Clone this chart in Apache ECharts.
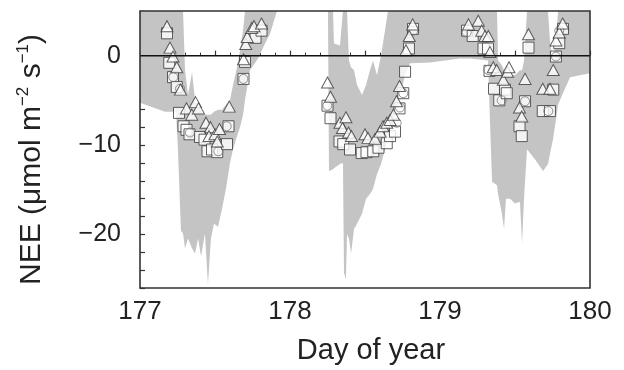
<!DOCTYPE html>
<html>
<head>
<meta charset="utf-8">
<script src="https://cdn.jsdelivr.net/npm/echarts@6/dist/echarts.min.js"></script>
<style>
html,body{margin:0;padding:0;background:#fff;}
#chart{width:624px;height:370px;}
</style>
</head>
<body>
<div id="chart"></div>
<script>
// ---- data (day of year, NEE in µmol m-2 s-1) ----
const xTickLabels = [177, 178, 179, 180];
const yTickLabels = [0, -10, -20];

// grey envelope: lower and upper bounds at each day
const bandDays = [177.000,177.167,177.240,177.253,177.273,177.287,177.300,177.320,177.347,177.367,177.387,177.407,177.433,177.453,177.473,177.493,177.520,177.547,177.573,177.600,177.620,177.647,177.667,177.687,177.700,177.733,177.787,177.827,177.867,177.913,178.253,
  178.260,178.287,178.293,178.333,178.353,178.360,178.373,178.380,178.393,178.407,178.427,178.447,178.480,178.507,178.533,178.553,178.580,178.607,178.633,178.653,178.667,178.700,178.733,178.767,178.800,178.933,179.133,179.200,179.320,
  179.333,179.347,179.380,179.387,179.413,179.427,179.440,179.467,179.500,179.533,179.547,179.560,179.580,179.633,179.687,179.720,179.733,179.753,179.773,179.787,179.820,179.867,180.000];
const bandLower = [-5.28,-6.28,-6.28,-10.47,-19.58,-19.9,-21.57,-20.46,-21.57,-22.13,-20.46,-22.46,-19.91,-25.62,-20.46,-18.8,-19.14,-17.13,-14.9,-12.0,-10.47,-9.0,-8.0,-6.6,-4.95,-1.64,-0.31,1.13,2.45,5,5,
  -12.91,-12.7,-12.6,-12.13,-12.0,-24.29,-25.06,-20.0,-20.46,-22.13,-19.36,-18.8,-17.69,-16.02,-15.47,-14.91,-13.24,-12.13,-10.47,-9.37,-8.26,-6.61,-4.4,-2.19,-0.86,-0.75,-0.31,-0.31,-0.53,
  -7.16,-14.12,-14.5,-15.47,-17.69,-19.36,-16.02,-16.02,-16.55,-16.35,-21.02,-16.02,-10.47,-11.58,-12.91,-12.13,-11.0,-9.37,-7.16,-5.5,-4.18,-2.41,-1.97];
const bandUpper = [5,5,5,5,5,5,-1.64,-4.4,-1.86,-4.95,-5.5,-6.06,-6.61,-6.61,-6.61,-6.28,-6.06,-6.06,-5.5,-4.95,-3.29,-1.3,0.57,2.78,5,5,5,5,5,5,5,
  5,5,1.35,1.13,5,5,5,5,-0.53,-1.3,-1.64,-3.29,-4.4,-3.29,-1.64,-0.53,-2.19,0.02,2.78,5,5,5,5,5,5,5,5,5,5,
  5,5,5,-0.53,-1.08,-1.64,-1.64,-2.19,-2.19,-1.64,-1.64,-0.53,5,5,5,5,1.68,-0.53,1.68,5,5,5,5];

// triangles
const triDays = [177.18,177.20,177.22,177.245,177.27,177.31,177.345,177.37,177.39,177.44,177.47,177.46,177.50,177.515,177.53,177.595,177.69,177.705,177.715,177.745,177.76,177.81,
  178.25,178.27,178.333,178.35,178.373,178.39,178.41,178.50,178.52,178.567,178.60,178.62,178.645,178.667,178.69,178.71,178.73,178.773,178.795,178.818,
  179.19,179.255,179.278,179.30,179.322,179.333,179.355,179.378,179.422,179.45,179.46,179.53,179.545,179.567,179.59,179.685,179.733,179.755,179.773,179.795,179.818];
const triNEE = [3.3,0.9,-0.1,-1.3,-3.8,-5.9,-6.6,-5.2,-5.9,-7.5,-8.0,-9.0,-8.8,-9.6,-8.2,-5.7,-0.4,1.3,2.1,3.1,3.3,3.6,
  -3.0,-4.6,-7.5,-8.1,-6.9,-8.6,-9.0,-8.8,-9.2,-9.3,-8.5,-7.9,-7.5,-7.2,-6.6,-5.1,-3.4,0.6,2.2,3.5,
  3.5,3.9,2.8,2.2,2.2,0.4,-1.3,-1.6,-2.7,-1.8,-1.3,-5.8,-6.8,-2.6,2.4,-3.7,-3.7,-1.6,1.7,2.6,3.6];

// squares
const sqDays = [177.18,177.195,177.22,177.245,177.26,177.29,177.31,177.33,177.40,177.43,177.45,177.48,177.515,177.58,177.59,177.69,177.70,177.77,177.81,
  178.25,178.27,178.33,178.355,178.40,178.478,178.51,178.555,178.59,178.645,178.667,178.70,178.73,178.755,178.767,178.793,178.82,
  179.18,179.218,179.29,179.32,179.33,179.36,179.395,179.433,179.445,179.53,179.545,179.567,179.59,179.685,179.733,179.755,179.773,179.795,179.82];
const sqNEE = [2.5,-0.8,-2.4,-3.5,-6.4,-7.9,-8.3,-8.8,-9.1,-9.4,-10.7,-10.5,-10.8,-9.9,-7.9,-2.6,-0.7,2.0,2.8,
  -5.6,-7.0,-9.6,-9.9,-10.5,-10.9,-10.8,-10.7,-10.3,-9.8,-9.0,-8.5,-5.9,-4.2,-1.8,0.8,3.0,
  2.8,2.2,0.8,0.8,-1.7,-3.7,-5.0,-3.8,-4.2,-7.9,-9.0,-5.1,0.9,-6.2,-6.2,-3.8,-0.1,1.4,3.0];

// circles
const circDays = [177.222,177.267,177.333,177.522,177.578,177.689,178.249,178.711,178.733,178.755,178.822,179.178,179.322,179.411,179.567,179.722,179.773,179.795];
const circNEE = [-2.4,-3.7,-8.6,-10.7,-7.9,-2.6,-5.6,-7.5,-5.8,-4.2,2.8,2.6,-1.6,-5.0,-5.1,-6.2,-0.1,2.8];

// ---- chart ----
const FONT = '"Liberation Sans", Arial, Helvetica, sans-serif';
const minus = v => String(v).replace('-', '\u2212');
const pairs = (xs, ys) => xs.map((x, i) => [x, ys[i]]);

const chart = echarts.init(document.getElementById('chart'), null, {renderer: 'canvas'});
chart.setOption({
  animation: false,
  backgroundColor: '#fff',
  grid: {left: 140, right: 34, top: 11, bottom: 80, show: true, z: 10,
         backgroundColor: 'rgba(0,0,0,0)', borderColor: '#333', borderWidth: 1.6},
  xAxis: {
    type: 'value', min: 177, max: 180, interval: 0.5,
    name: 'Day of year', nameLocation: 'middle', nameGap: 48,
    nameTextStyle: {fontFamily: FONT, fontSize: 29, color: '#222', padding: [0, 0, 0, 12]},
    axisLine: {show: false},
    axisTick: {show: true, inside: true, length: 5, lineStyle: {color: '#333', width: 1.2}},
    minorTick: {show: true, splitNumber: 5, length: 3, lineStyle: {color: '#333', width: 1}},
    splitLine: {show: false}, minorSplitLine: {show: false},
    axisLabel: {fontFamily: FONT, fontSize: 26, color: '#222', margin: 11,
      formatter: v => xTickLabels.includes(Math.round(v * 1000) / 1000) ? String(v) : ''}
  },
  yAxis: {
    type: 'value', min: -26, max: 5, interval: 2,
    name: 'NEE (\u03bcmol m{sup|\u22122} s{sup|\u22121})', nameLocation: 'middle', nameGap: 92,
    nameTextStyle: {fontFamily: FONT, fontSize: 30, color: '#222', padding: [0, 20, 0, 0],
      rich: {sup: {fontFamily: FONT, fontSize: 17, color: '#222', verticalAlign: 'top', lineHeight: 33}}},
    axisLine: {show: false},
    axisTick: {show: true, inside: true, length: 5, lineStyle: {color: '#333', width: 1.2}},
    splitLine: {show: false},
    axisLabel: {fontFamily: FONT, fontSize: 25, color: '#222', margin: 19,
      formatter: v => yTickLabels.includes(v) ? minus(v) : ''}
  },
  series: [
    {type: 'line', data: [[177, 0], [180, 0]], symbol: 'none', silent: true,
     lineStyle: {color: '#111', width: 1.6}},
    {type: 'custom', silent: true,
     data: bandDays.map((d, i) => [d, bandLower[i], bandUpper[i]]),
     encode: {x: 0, y: [1, 2]},
     renderItem: function (params, api) {
       if (params.dataIndex !== 0) return null;
       const pts = [];
       for (let i = 0; i < bandDays.length; i++) pts.push(api.coord([bandDays[i], bandUpper[i]]));
       for (let i = bandDays.length - 1; i >= 0; i--) pts.push(api.coord([bandDays[i], bandLower[i]]));
       return {type: 'polygon', shape: {points: pts}, style: {fill: '#c4c4c4', stroke: null}};
     }},
    {type: 'scatter', data: pairs(sqDays, sqNEE), symbol: 'rect', symbolSize: 11,
     itemStyle: {color: '#fff', borderColor: '#3a3a3a', borderWidth: 1}},
    {type: 'scatter', data: pairs(circDays, circNEE), symbol: 'circle', symbolSize: 9,
     itemStyle: {color: 'rgba(0,0,0,0)', borderColor: '#777', borderWidth: 1}},
    {type: 'scatter', data: pairs(triDays, triNEE), symbol: 'triangle', symbolSize: [12, 11],
     itemStyle: {color: '#fff', borderColor: '#3a3a3a', borderWidth: 1}}
  ]
});
</script>
</body>
</html>
